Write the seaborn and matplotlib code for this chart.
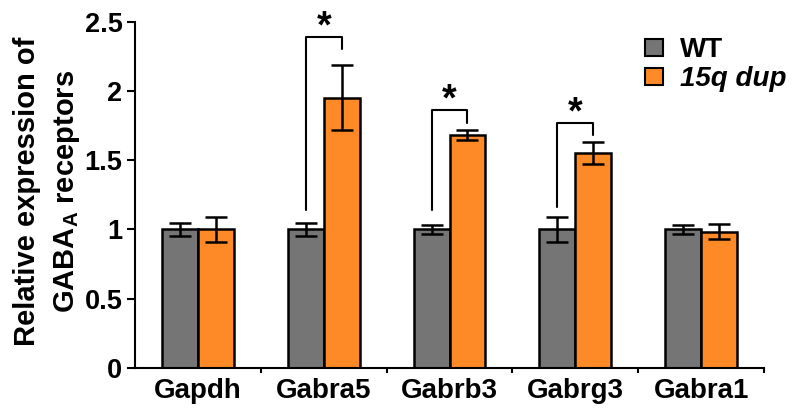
import matplotlib
matplotlib.use("Agg")
import matplotlib.pyplot as plt
import numpy as np
import pandas as pd
import seaborn as sns

# Relative qPCR expression of GABA-A receptor subunits (mean ± SEM)
genes = ["Gapdh", "Gabra5", "Gabrb3", "Gabrg3", "Gabra1"]
groups = ["WT", "15q dup"]
wt_mean = [1.00, 1.00, 1.00, 1.00, 1.00]
wt_sem = [0.05, 0.05, 0.03, 0.09, 0.035]
dup_mean = [1.00, 1.95, 1.68, 1.55, 0.985]
dup_sem = [0.09, 0.235, 0.035, 0.08, 0.055]
# significance brackets: gene, bracket top, right-leg bottom, left-leg bottom
sig_genes = ["Gabra5", "Gabrb3", "Gabrg3"]
sig_top = [2.39, 1.86, 1.77]
sig_right = [2.30, 1.77, 1.68]
sig_left = [1.14, 1.14, 1.16]
yticks = [0, 0.5, 1, 1.5, 2, 2.5]
ytick_labels = ["0", "0.5", "1", "1.5", "2", "2.5"]

colors = ["#757575", "#FD8A26"]

sns.set_theme(style="ticks")
plt.rcParams["font.family"] = ["Liberation Sans", "DejaVu Sans"]
plt.rcParams["font.weight"] = "bold"
plt.rcParams["mathtext.fontset"] = "custom"
plt.rcParams["mathtext.rm"] = "Liberation Sans:bold"
plt.rcParams["mathtext.bf"] = "Liberation Sans:bold"
plt.rcParams["mathtext.default"] = "rm"
for key in ["text.color", "axes.labelcolor", "xtick.color", "ytick.color",
            "axes.edgecolor"]:
    plt.rcParams[key] = "black"

df = pd.DataFrame({
    "gene": genes * 2,
    "group": [groups[0]] * len(genes) + [groups[1]] * len(genes),
    "value": wt_mean + dup_mean,
    "sem": wt_sem + dup_sem,
})

fig = plt.figure(figsize=(7.92, 4.09), dpi=100)
ax = fig.add_axes([135 / 792, 1 - 368 / 409, 629 / 792, 346.3 / 409])

sns.barplot(data=df, x="gene", y="value", hue="group", order=genes,
            hue_order=groups, palette=colors, width=0.57, errorbar=None,
            edgecolor="black", linewidth=1.8, saturation=1, ax=ax)

# error bars at each bar's centre
centers = {}
for container, grp in zip(ax.containers, groups):
    sub = df[df["group"] == grp].set_index("gene").loc[genes]
    for patch, gene in zip(container.patches, genes):
        cx = patch.get_x() + patch.get_width() / 2
        centers[(grp, gene)] = cx
        ax.errorbar(cx, sub.loc[gene, "value"], yerr=sub.loc[gene, "sem"],
                    fmt="none", ecolor="black", elinewidth=1.8,
                    capsize=8, capthick=1.8, zorder=5)

# significance brackets
for gene, top, rb, lb in zip(sig_genes, sig_top, sig_right, sig_left):
    x1 = centers[(groups[0], gene)]
    x2 = centers[(groups[1], gene)]
    ax.plot([x1, x1, x2, x2], [lb, top, top, rb], color="black", lw=1.5,
            clip_on=False, zorder=6)
    ax.text((x1 + x2) / 2, top - 0.06, "*", ha="center", va="bottom",
            fontsize=27, fontweight="bold", clip_on=False)

ax.set_xlim(-0.5, 4.5)
ax.set_ylim(0, 2.5)
ax.set_yticks(yticks)
ax.set_yticklabels(ytick_labels, fontsize=19.5, fontweight="bold")
ax.set_xticks(range(len(genes)))
ax.set_xticklabels(genes, fontsize=20, fontweight="bold")
ax.set_xticks([i + 0.5 for i in range(len(genes))], minor=True)
ax.tick_params(axis="x", which="major", length=0, pad=7)
ax.tick_params(axis="x", which="minor", length=3.5, width=1.5, direction="out")
ax.tick_params(axis="y", length=6, width=1.5, pad=3)
ax.set_xlabel("")
ax.set_ylabel("Relative expression of\nGABA$_{\\mathrm{A}}$ receptors",
              fontsize=21, fontweight="bold", linespacing=1.5)
ax.yaxis.set_label_coords(-0.085, 0.51)
sns.despine(ax=ax)
for sp in ["left", "bottom"]:
    ax.spines[sp].set_linewidth(1.5)

handles, labels = ax.get_legend_handles_labels()
for h in handles:
    h.set_linewidth(1.5)
leg = ax.legend(handles, labels, loc="upper left",
                bbox_to_anchor=(645 / 792, 1 - 37 / 409),
                bbox_transform=fig.transFigure, frameon=False,
                prop={"size": 20, "weight": "bold"}, borderpad=0,
                borderaxespad=0, handlelength=0.65, handleheight=0.55,
                handletextpad=0.6, labelspacing=0.12)
leg.get_texts()[1].set_fontstyle("italic")

fig.savefig("out.png", dpi=100)
